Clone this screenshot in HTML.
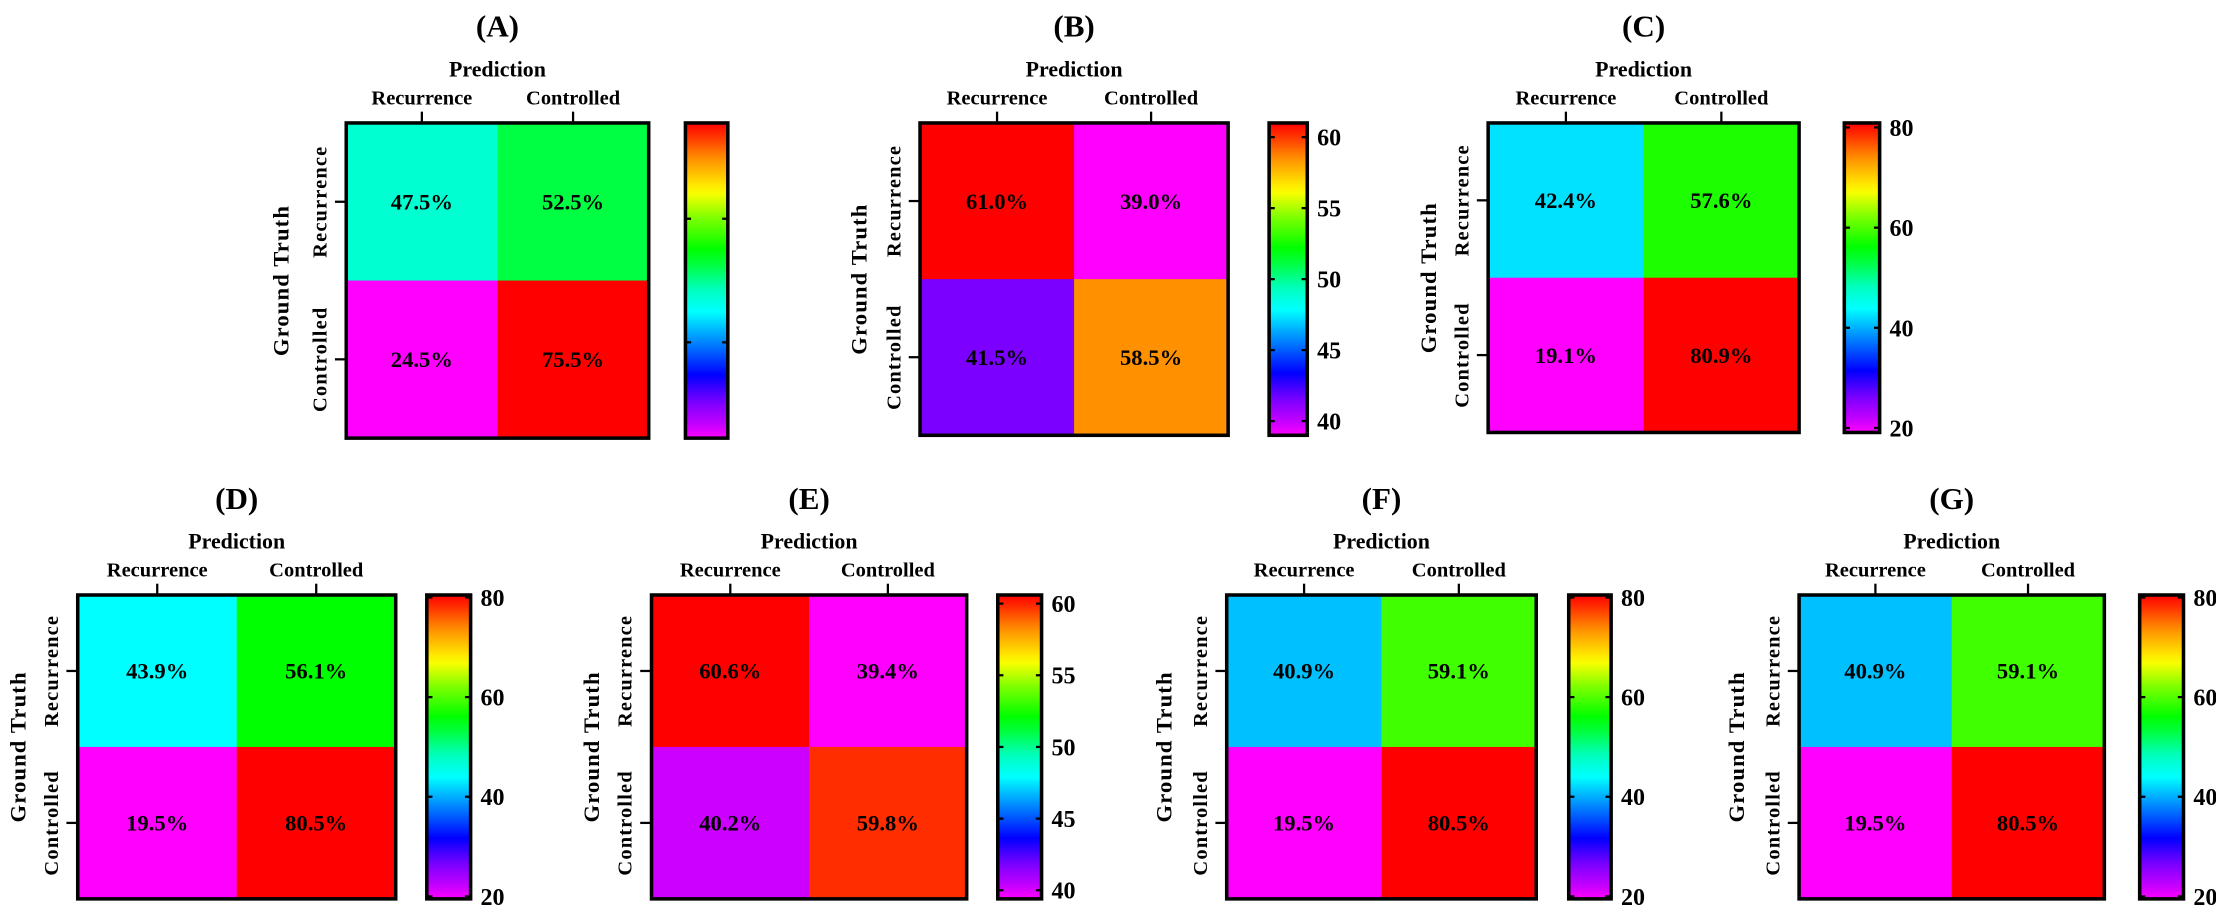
<!DOCTYPE html>
<html><head><meta charset="utf-8"><style>
html,body{margin:0;padding:0;background:#fff;}
svg{display:block;}
text{font-family:"Liberation Serif",serif;font-weight:bold;fill:#000;}
</style></head>
<body>
<svg id="chart" width="2216" height="913" viewBox="0 0 1568 646" preserveAspectRatio="none" xmlns="http://www.w3.org/2000/svg"></svg>
<script>
const panelLabels = ["(A)","(B)","(C)","(D)","(E)","(F)","(G)"];
const classNames = ["Recurrence","Controlled"];
const valuesA = [47.5, 52.5, 24.5, 75.5];
const valuesB = [61.0, 39.0, 41.5, 58.5];
const valuesC = [42.4, 57.6, 19.1, 80.9];
const valuesD = [43.9, 56.1, 19.5, 80.5];
const valuesE = [60.6, 39.4, 40.2, 59.8];
const valuesF = [40.9, 59.1, 19.5, 80.5];
const valuesG = [40.9, 59.1, 19.5, 80.5];
const allValues = [valuesA, valuesB, valuesC, valuesD, valuesE, valuesF, valuesG];
const ticksA = [40, 60];
const ticksB = [40, 45, 50, 55, 60];
const ticksC = [20, 40, 60, 80];
const ticksE = [40, 45, 50, 55, 60];
const allTicks = [ticksA, ticksB, ticksC, ticksC, ticksE, ticksC, ticksC];
const showTickLabels = [false, true, true, true, true, true, true];

const layout = [
 {mx:245, mw:214, my:87, mh:223, cb:485, cbw:30, gt:198},
 {mx:651, mw:218, my:87, mh:221, cb:898, cbw:27, gt:607},
 {mx:1053, mw:220, my:87, mh:219, cb:1305, cbw:25, gt:1010},
 {mx:55, mw:225, my:421, mh:215, cb:302, cbw:31, gt:12},
 {mx:461, mw:223, my:421, mh:215, cb:706, cbw:31, gt:418},
 {mx:868, mw:219, my:421, mh:215, cb:1110, cbw:30, gt:823},
 {mx:1273, mw:216, my:421, mh:215, cb:1514, cbw:31, gt:1228}
];

const stops = [[0,"#ff00ff"],[0.04,"#c800ff"],[0.11,"#8000ff"],[0.2,"#0000ff"],[0.35,"#00bfff"],[0.4,"#00ffff"],[0.47,"#00ffc0"],[0.55,"#00ff40"],[0.6,"#00ff00"],[0.7,"#80ff00"],[0.78,"#ffff00"],[0.89,"#ff8c00"],[0.96,"#ff3000"],[1,"#ff0000"]];
function hex(c){return [1,3,5].map(i=>parseInt(c.substr(i,2),16));}
function cmap(t){
  t=Math.max(0,Math.min(1,t));
  for(let i=1;i<stops.length;i++){
    if(t<=stops[i][0]){
      const a=stops[i-1],b=stops[i];const f=(t-a[0])/(b[0]-a[0]);
      const ca=hex(a[1]),cb=hex(b[1]);
      return "rgb("+ca.map((v,k)=>Math.round(v+(cb[k]-v)*f)).join(",")+")";
    }
  }
  return stops[stops.length-1][1];
}
const NS="http://www.w3.org/2000/svg";
const svg=document.getElementById("chart");
function mk(tag,attrs,parent,txt){
  const e=document.createElementNS(NS,tag);
  for(const k in attrs)e.setAttribute(k,attrs[k]);
  if(txt!==undefined)e.textContent=txt;
  (parent||svg).appendChild(e);return e;
}
const defs=mk("defs",{});
const grad=mk("linearGradient",{id:"rainbow",x1:"0",y1:"1",x2:"0",y2:"0"},defs);
for(let i=0;i<=40;i++){mk("stop",{offset:(i/40),"stop-color":cmap(i/40)},grad);}

allValues.forEach((vals,p)=>{
  const L=layout[p];
  const g=mk("g",{});
  
  
  const lo=Math.min(...vals), hi=Math.max(...vals);
  const cx=L.mx+L.mw/2;
  const title=mk("text",{x:cx,y:L.my-61,"text-anchor":"middle","font-size":22},g,panelLabels[p]);
  
  
  const pred=mk("text",{x:cx,y:L.my-33,"text-anchor":"middle","font-size":15.5},g,"Prediction");
  
  
  const cw=L.mw/2, ch=L.mh/2;
  vals.forEach((v,i)=>{
    const r=Math.floor(i/2), c=i%2;
    const x=L.mx+c*cw, y=L.my+r*ch;
    const rect=mk("rect",{x:x,y:y,width:cw+0.5,height:ch+0.5,fill:cmap((v-lo)/(hi-lo))},g);
    
    
    const t=mk("text",{x:x+cw/2,y:y+ch/2+5.5,"text-anchor":"middle","font-size":16},g,v.toFixed(1)+"%");
    
    
  });
  const border=mk("rect",{x:L.mx,y:L.my,width:L.mw,height:L.mh,fill:"none",stroke:"#000","stroke-width":2.5},g);
  
  
  classNames.forEach((n,c)=>{
    const x=L.mx+c*cw+cw/2;
    mk("line",{x1:x,y1:L.my,x2:x,y2:L.my-8,stroke:"#000","stroke-width":1.6},g);
    const t=mk("text",{x:x,y:L.my-13,"text-anchor":"middle","font-size":14.5},g,n);
    
    
    const y=L.my+c*ch+ch/2;
    mk("line",{x1:L.mx,y1:y,x2:L.mx-8,y2:y,stroke:"#000","stroke-width":1.6},g);
    const rt=mk("text",{x:0,y:0,"text-anchor":"middle","font-size":14.5,"letter-spacing":"0.8",transform:"translate("+(L.mx-14)+","+y+") rotate(-90)"},g,n);
    
    
  });
  const gt=mk("text",{x:0,y:0,"text-anchor":"middle","font-size":16,"letter-spacing":"0.8",transform:"translate("+(L.gt+6)+","+(L.my+L.mh/2)+") rotate(-90)"},g,"Ground Truth");
  
  
  const cb=mk("rect",{x:L.cb,y:L.my,width:L.cbw,height:L.mh,fill:"url(#rainbow)",stroke:"#000","stroke-width":2.5},g);
  
  
  allTicks[p].forEach(tv=>{
    const y=L.my+L.mh*(hi-tv)/(hi-lo);
    mk("line",{x1:L.cb,y1:y,x2:L.cb+4,y2:y,stroke:"#000","stroke-width":1.6},g);
    mk("line",{x1:L.cb+L.cbw,y1:y,x2:L.cb+L.cbw-4,y2:y,stroke:"#000","stroke-width":1.6},g);
    if(showTickLabels[p]){
      const t=mk("text",{x:L.cb+L.cbw+7,y:y+6,"font-size":17},g,String(tv));
      
      
    }
  });
});
</script>
</body></html>
